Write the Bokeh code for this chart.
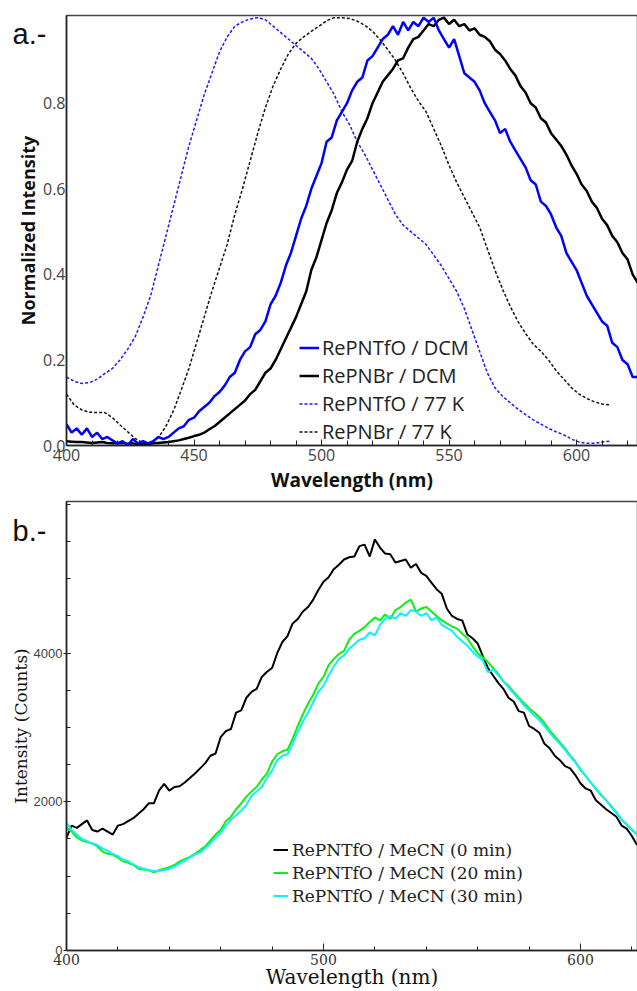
from bokeh.plotting import figure
from bokeh.layouts import column
from bokeh.models import FixedTicker, PrintfTickFormatter, Label, Range1d
from bokeh.embed import file_html
from bokeh.resources import INLINE

# ---------------- panel a data ----------------
wl_a = list(range(400, 625, 2))      # 400..624 nm, solution spectra
wl_a77 = list(range(400, 614, 3))    # 400..613 nm, 77 K spectra

repntfo_dcm = [
    0.05, 0.03, 0.04, 0.025, 0.04, 0.02, 0.03, 0.015, 0.02, 0.012,
    0.005, 0.01, 0.0, 0.015, 0.005, 0.01, 0.005, 0.01, 0.02, 0.015,
    0.02, 0.03, 0.04, 0.045, 0.06, 0.065, 0.08, 0.09, 0.1, 0.115,
    0.125, 0.14, 0.16, 0.17, 0.2, 0.22, 0.23, 0.26, 0.27, 0.29,
    0.33, 0.35, 0.38, 0.42, 0.45, 0.49, 0.53, 0.56, 0.6, 0.63,
    0.66, 0.71, 0.72, 0.76, 0.78, 0.8, 0.83, 0.85, 0.86, 0.9,
    0.91, 0.93, 0.95, 0.96, 0.98, 0.96, 0.99, 0.97, 0.99, 0.98,
    1.0, 0.99, 1.0, 0.97, 0.95, 0.93, 0.95, 0.91, 0.87, 0.86,
    0.85, 0.83, 0.8, 0.78, 0.76, 0.73, 0.74, 0.71, 0.69, 0.67,
    0.65, 0.62, 0.61, 0.57, 0.56, 0.54, 0.51, 0.49, 0.45, 0.43,
    0.41, 0.38, 0.35, 0.33, 0.31, 0.29, 0.28, 0.24, 0.23, 0.2,
    0.19, 0.16, 0.16,
]
repnbr_dcm = [
    0.01, 0.009, 0.008, 0.008, 0.007, 0.006, 0.007, 0.008, 0.006, 0.005,
    0.005, 0.006, 0.004, 0.005, 0.003, 0.004, 0.003, 0.005, 0.006, 0.007,
    0.008, 0.01, 0.012, 0.015, 0.018, 0.022, 0.025, 0.03, 0.038, 0.045,
    0.055, 0.065, 0.075, 0.085, 0.095, 0.105, 0.12, 0.13, 0.15, 0.17,
    0.18, 0.2, 0.225, 0.25, 0.275, 0.3, 0.33, 0.36, 0.41, 0.44,
    0.48, 0.52, 0.55, 0.59, 0.615, 0.645, 0.665, 0.71, 0.74, 0.765,
    0.8, 0.825, 0.85, 0.865, 0.88, 0.9, 0.905, 0.93, 0.95, 0.955,
    0.97, 0.985, 0.98, 0.995, 1.0, 0.985, 0.995, 0.98, 0.985, 0.97,
    0.975, 0.96, 0.955, 0.945, 0.925, 0.915, 0.9, 0.88, 0.865, 0.84,
    0.825, 0.8, 0.79, 0.765, 0.755, 0.73, 0.715, 0.7, 0.68, 0.655,
    0.635, 0.61, 0.595, 0.57, 0.555, 0.53, 0.515, 0.49, 0.475, 0.45,
    0.435, 0.4, 0.38,
]
repntfo_77k = [
    0.16, 0.15, 0.145, 0.147, 0.155, 0.168, 0.18, 0.2, 0.225, 0.255,
    0.3, 0.35, 0.42, 0.49, 0.56, 0.63, 0.7, 0.76, 0.82, 0.87,
    0.92, 0.955, 0.98, 0.99, 0.997, 1.0, 0.995, 0.98, 0.965, 0.95,
    0.935, 0.92, 0.905, 0.88, 0.85, 0.82, 0.78, 0.75, 0.71, 0.68,
    0.645, 0.61, 0.575, 0.54, 0.515, 0.5, 0.485, 0.47, 0.445, 0.42,
    0.39, 0.36, 0.32, 0.27, 0.22, 0.17, 0.135, 0.115, 0.1, 0.085,
    0.072, 0.06, 0.05, 0.04, 0.032, 0.025, 0.015, 0.008, 0.005, 0.005,
    0.008, 0.01,
]
repnbr_77k = [
    0.12, 0.095, 0.083, 0.078, 0.077, 0.077, 0.065, 0.048, 0.032, 0.016,
    0.006, 0.006, 0.018, 0.045, 0.082, 0.13, 0.18, 0.24, 0.3, 0.36,
    0.415, 0.47, 0.54, 0.6, 0.665, 0.73, 0.79, 0.84, 0.88, 0.915,
    0.94, 0.955, 0.968, 0.98, 0.993, 1.0, 1.0, 0.998, 0.992, 0.982,
    0.968, 0.948, 0.925, 0.9, 0.87, 0.835, 0.805, 0.78, 0.74, 0.7,
    0.655, 0.615, 0.58, 0.545, 0.51, 0.46, 0.41, 0.365, 0.325, 0.29,
    0.262, 0.237, 0.22, 0.2, 0.175, 0.155, 0.135, 0.12, 0.11, 0.102,
    0.097, 0.095,
]
a_xticks = [400, 450, 500, 550, 600]
a_yticks = [0.0, 0.2, 0.4, 0.6, 0.8]

# ---------------- panel b data ----------------
wl_b = list(range(400, 623, 2))      # 400..622 nm
mecn_0 = [
    1520, 1680, 1650, 1700, 1750, 1620, 1600, 1640, 1600, 1560,
    1680, 1700, 1740, 1780, 1840, 1900, 1980, 1980, 2150, 2240,
    2150, 2200, 2210, 2260, 2320, 2380, 2450, 2520, 2620, 2650,
    2870, 2950, 2980, 3200, 3230, 3400, 3480, 3520, 3680, 3750,
    3800, 4000, 4150, 4230, 4400, 4460, 4560, 4620, 4720, 4850,
    4960, 5020, 5130, 5190, 5260, 5290, 5300, 5440, 5460, 5300,
    5530, 5420, 5340, 5330, 5220, 5240, 5260, 5150, 5200, 5080,
    5040, 4950, 4860, 4800, 4600, 4500, 4460, 4440, 4250, 4200,
    4130, 3960, 3800, 3700, 3600, 3520, 3400, 3350, 3220, 3200,
    3020, 2980, 2930, 2780, 2720, 2620, 2560, 2480, 2450, 2360,
    2250, 2180, 2150, 2020, 1960, 1900, 1850, 1800, 1680, 1640,
    1540, 1420,
]
mecn_20 = [
    1650, 1600, 1520, 1480, 1460, 1440, 1400, 1330, 1300, 1290,
    1250, 1200, 1180, 1150, 1100, 1090, 1080, 1050, 1080, 1100,
    1120, 1150, 1200, 1230, 1260, 1300, 1350, 1400, 1480, 1560,
    1620, 1740, 1800, 1900, 1980, 2070, 2140, 2200, 2300, 2380,
    2540, 2640, 2680, 2700, 2850, 3020, 3180, 3320, 3440, 3590,
    3680, 3840, 3920, 3990, 4030, 4180, 4260, 4300, 4350, 4420,
    4480, 4440, 4520, 4460, 4580, 4620, 4680, 4720, 4560, 4600,
    4620, 4560, 4500, 4440, 4400, 4360, 4330, 4260, 4200, 4090,
    4000, 3940, 3880, 3800, 3720, 3620, 3560, 3480, 3400, 3330,
    3260, 3200, 3140, 3060, 2960, 2880, 2800, 2720, 2620, 2540,
    2430, 2350, 2260, 2170, 2090, 2020, 1940, 1860, 1760, 1700,
    1630, 1560,
]
mecn_30 = [
    1720, 1620, 1560, 1500, 1470, 1440, 1420, 1370, 1340, 1300,
    1270, 1220, 1200, 1160, 1120, 1100, 1080, 1070, 1070, 1080,
    1100, 1130, 1170, 1210, 1250, 1290, 1320, 1380, 1440, 1520,
    1580, 1680, 1760, 1820, 1880, 1960, 2080, 2140, 2200, 2320,
    2420, 2560, 2620, 2640, 2780, 2940, 3080, 3200, 3340, 3480,
    3560, 3700, 3820, 3920, 3970, 4060, 4120, 4180, 4200, 4280,
    4240, 4380, 4460, 4500, 4460, 4540, 4500, 4580, 4560, 4500,
    4540, 4440, 4480, 4380, 4340, 4300, 4220, 4160, 4100, 4020,
    3960, 3900, 3740, 3780, 3700, 3620, 3540, 3460, 3380, 3300,
    3230, 3160, 3100, 3020, 2930, 2850, 2780, 2700, 2610, 2530,
    2440, 2350, 2260, 2180, 2100, 2020, 1930, 1850, 1760, 1690,
    1620, 1560,
]
b_xticks = [400, 500, 600]
b_yticks = [0, 2000, 4000]

# ---------------- panel a ----------------
p1 = figure(width=671, height=495, x_range=Range1d(400, 623.9), y_range=Range1d(0, 1.005),
            output_backend="svg", toolbar_location=None,
            min_border_left=64, min_border_right=0, min_border_top=15, min_border_bottom=49)
p1.xgrid.grid_line_color = None
p1.ygrid.grid_line_color = None
p1.outline_line_color = "#444444"
p1.outline_line_width = 1.5

p1.line(wl_a77, repnbr_77k, color="#111111", line_width=1.5, line_dash="3 2", legend_label="RePNBr / 77 K")
p1.line(wl_a77, repntfo_77k, color="#1a1aff", line_width=1.5, line_dash="3 2", legend_label="RePNTfO / 77 K")
p1.line(wl_a, repnbr_dcm, color="#000000", line_width=2.5, legend_label="RePNBr / DCM")
p1.line(wl_a, repntfo_dcm, color="#0000ff", line_width=2.5, legend_label="RePNTfO / DCM")

p1.xaxis.ticker = FixedTicker(ticks=a_xticks, minor_ticks=list(range(400, 625, 10)))
p1.yaxis.ticker = FixedTicker(ticks=a_yticks, minor_ticks=[])
p1.yaxis.formatter = PrintfTickFormatter(format="%.1f")
for ax in (p1.xaxis[0], p1.yaxis[0]):
    ax.axis_line_color = "#222222"
    ax.axis_line_width = 1.5
    ax.major_tick_line_color = "#222222"
    ax.minor_tick_line_color = "#222222"
    ax.major_label_text_font = "Open Sans"
    ax.major_label_text_font_size = "16px"
    ax.major_label_text_color = "#444444"
    ax.axis_label_text_font = "Open Sans"
    ax.axis_label_text_font_style = "bold"
    ax.axis_label_text_font_size = "19px"
    ax.axis_label_text_color = "#111111"
p1.yaxis.axis_label_text_font_size = "18px"
p1.xaxis.axis_label = "Wavelength (nm)"
p1.yaxis.axis_label = "Normalized Intensity"
p1.xaxis.major_tick_in = 6
p1.xaxis.major_tick_out = 0
p1.xaxis.minor_tick_in = 5
p1.xaxis.minor_tick_out = 0
p1.xaxis.major_label_standoff = 3
p1.xaxis.axis_label_standoff = 3
p1.yaxis.major_tick_in = 0
p1.yaxis.major_tick_out = 0
p1.yaxis.minor_tick_in = 0
p1.yaxis.minor_tick_out = 0
p1.yaxis.major_label_standoff = 1
p1.yaxis.axis_label_standoff = 0

lg = p1.legend[0]
items = list(lg.items)
lg.items = items[::-1]
lg.location = (233, 0)
lg.padding = 0
lg.margin = 0
lg.spacing = 1
lg.label_height = 25
lg.glyph_height = 25
lg.glyph_width = 20
lg.label_standoff = 3
lg.label_text_font = "Open Sans"
lg.label_text_font_size = "20px"
lg.label_text_color = "#222222"
lg.background_fill_alpha = 0
lg.border_line_color = None

# panel tag, drawn at a fixed canvas position (kept in the off-screen right panel)
p1.add_layout(Label(x=12, y=33, x_units="canvas", y_units="canvas", text="a.-",
                    text_font="Liberation Sans", text_font_size="29px",
                    text_color="#111111", text_baseline="alphabetic"), "right")

# ---------------- panel b ----------------
p2 = figure(width=671, height=496, x_range=Range1d(400, 622.2), y_range=Range1d(0, 6040),
            output_backend="svg", toolbar_location=None,
            min_border_left=66, min_border_right=0, min_border_top=6, min_border_bottom=41)
p2.xgrid.grid_line_color = None
p2.ygrid.grid_line_color = None
p2.outline_line_color = "#444444"
p2.outline_line_width = 1.5

p2.line(wl_b, mecn_0, color="#000000", line_width=2, legend_label="RePNTfO / MeCN (0 min)")
p2.line(wl_b, mecn_20, color="#11ee11", line_width=2, legend_label="RePNTfO / MeCN (20 min)")
p2.line(wl_b, mecn_30, color="#11eeff", line_width=2, legend_label="RePNTfO / MeCN (30 min)")

p2.xaxis.ticker = FixedTicker(ticks=b_xticks, minor_ticks=list(range(400, 640, 20)))
p2.yaxis.ticker = FixedTicker(ticks=b_yticks, minor_ticks=list(range(0, 6001, 500)))
for ax in (p2.xaxis[0], p2.yaxis[0]):
    ax.axis_line_color = "#222222"
    ax.axis_line_width = 1.5
    ax.major_tick_line_color = "#222222"
    ax.minor_tick_line_color = "#222222"
    ax.axis_label_text_font = "DejaVu Serif"
    ax.axis_label_text_font_style = "normal"
    ax.axis_label_text_color = "#111111"
p2.xaxis.axis_label = "Wavelength (nm)"
p2.yaxis.axis_label = "Intensity (Counts)"
p2.xaxis.axis_label_text_font_size = "20px"
p2.yaxis.axis_label_text_font_size = "17px"
p2.xaxis.major_label_text_font = "DejaVu Serif"
p2.xaxis.major_label_text_font_size = "14px"
p2.xaxis.major_label_text_color = "#333333"
p2.yaxis.major_label_text_font = "Liberation Sans"
p2.yaxis.major_label_text_font_size = "13px"
p2.yaxis.major_label_text_color = "#444444"
p2.xaxis.major_tick_in = 7
p2.xaxis.major_tick_out = 0
p2.xaxis.minor_tick_in = 4
p2.xaxis.minor_tick_out = 0
p2.xaxis.major_label_standoff = 3
p2.xaxis.axis_label_standoff = -3
p2.yaxis.major_tick_in = 4
p2.yaxis.major_tick_out = 3
p2.yaxis.minor_tick_in = 4
p2.yaxis.minor_tick_out = 0
p2.yaxis.major_label_standoff = 1
p2.yaxis.axis_label_standoff = 0

lg2 = p2.legend[0]
lg2.location = (207, 43)
lg2.padding = 0
lg2.margin = 0
lg2.spacing = 0
lg2.label_height = 23
lg2.glyph_height = 23
lg2.glyph_width = 15
lg2.label_standoff = 4
lg2.label_text_font = "DejaVu Serif"
lg2.label_text_font_size = "17px"
lg2.label_text_color = "#222222"
lg2.background_fill_alpha = 0
lg2.border_line_color = None

p2.add_layout(Label(x=12, y=35, x_units="canvas", y_units="canvas", text="b.-",
                    text_font="Liberation Sans", text_font_size="29px",
                    text_color="#111111", text_baseline="alphabetic"), "right")

layout = column(p1, p2, spacing=0)
open("out.html", "w").write(file_html(layout, INLINE))
